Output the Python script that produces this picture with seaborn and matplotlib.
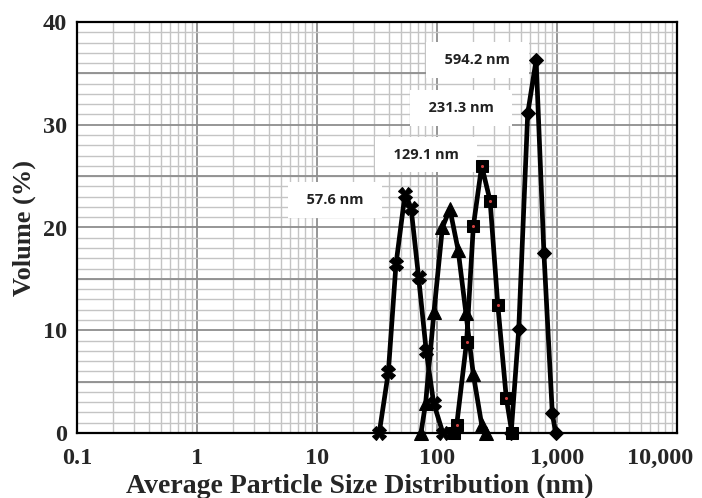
import numpy as np
import pandas as pd
import matplotlib
matplotlib.use("Agg")
import matplotlib.pyplot as plt
import seaborn as sns
from matplotlib.ticker import FixedLocator, FixedFormatter, NullFormatter, MultipleLocator
from matplotlib.transforms import ScaledTranslation

# ---- data ----
s1_x = [33.0, 39.3, 45.5, 54.2, 60.8, 70.2, 81.3, 93.8, 112.0]
s1_y = [0.0, 5.9, 16.4, 23.3, 21.9, 15.2, 8.0, 2.9, 0.0]

s2_x = [73.5, 80.4, 94.4, 110.9, 128.0, 150.0, 174.0, 200.7, 235.7, 257.0]
s2_y = [0.0, 2.9, 11.8, 20.0, 21.8, 17.8, 11.7, 5.7, 0.8, 0.0]

s3_x = [138.0, 146.0, 176.5, 200.7, 235.7, 277.0, 321.0, 378.0, 421.0]
s3_y = [0.0, 0.8, 8.9, 20.1, 26.0, 22.6, 12.5, 3.4, 0.0]

s4_x = [415.0, 480.0, 570.0, 670.0, 778.0, 914.0, 975.0]
s4_y = [0.0, 10.1, 31.1, 36.3, 17.5, 1.9, 0.0]

labels = ["57.6 nm", "129.1 nm", "231.3 nm", "594.2 nm"]
label_x = [14.2, 80.9, 159.0, 217.0]
label_y = [22.7, 27.1, 31.6, 36.3]

xtick_vals = [0.1, 1, 10, 100, 1000, 10000]
xtick_labels = ["0.1", "1", "10", "100", "1,000", "10,000"]
ytick_vals = [0, 10, 20, 30, 40]

sns.set_style("white")
plt.rcParams["font.family"] = ["Liberation Serif", "DejaVu Serif"]

fig = plt.figure(figsize=(7.02, 4.98), dpi=100)
ax = fig.add_axes([77 / 702, 1 - 433 / 498, 600 / 702, 411 / 498])

series = [
    (s1_x, s1_y, "X", 10),
    (s2_x, s2_y, "^", 10),
    (s3_x, s3_y, "s", 8),
    (s4_x, s4_y, "D", 7),
]
for xs, ys, mk, ms in series:
    df = pd.DataFrame({"x": xs, "y": ys})
    sns.lineplot(data=df, x="x", y="y", ax=ax, color="black", linewidth=3.4,
                 marker=mk, markersize=ms, markeredgecolor="black",
                 markerfacecolor="black", sort=False, zorder=5,
                 clip_on=False)

# red centre dots in the square markers
sns.scatterplot(x=s3_x[1:-1], y=s3_y[1:-1], ax=ax, color="#d04040", s=5,
                linewidth=0, zorder=6)

ax.set_xscale("log")
ax.set_xlim(0.1, 10000)
ax.set_ylim(0, 40)

ax.xaxis.set_major_locator(FixedLocator(xtick_vals))
ax.xaxis.set_major_formatter(FixedFormatter(xtick_labels))
ax.xaxis.set_minor_locator(matplotlib.ticker.LogLocator(base=10, subs=np.arange(2, 10)))
ax.xaxis.set_minor_formatter(NullFormatter())
ax.yaxis.set_major_locator(FixedLocator(ytick_vals))
ax.yaxis.set_minor_locator(MultipleLocator(1))

# grid: major every decade / 5 units, minor finer
ax.grid(which="major", axis="x", color="#8e8e8e", linewidth=1.3)
ax.grid(which="minor", axis="x", color="#c4c4c4", linewidth=1.0)
ax.grid(which="minor", axis="y", color="#c4c4c4", linewidth=1.0)
for v in np.arange(5, 40, 5):
    ax.axhline(v, color="#8e8e8e", linewidth=1.3, zorder=0.6)
ax.set_axisbelow(True)

ax.tick_params(axis="x", which="both", length=0, pad=11)
ax.tick_params(axis="y", which="both", length=0, pad=7)
for lab in ax.get_xticklabels() + ax.get_yticklabels():
    lab.set_fontweight("bold")
    lab.set_fontsize(17.5)

# last x label sits a little to the left, as in the reference
last = ax.get_xticklabels()[-1]
last.set_transform(last.get_transform() + ScaledTranslation(-0.17, 0, fig.dpi_scale_trans))

for sp in ax.spines.values():
    sp.set_visible(True)
    sp.set_color("black")
    sp.set_linewidth(1.6)

ax.set_xlabel("Average Particle Size Distribution (nm)", fontsize=20,
              fontweight="bold")
ax.xaxis.label.set_va("baseline")
ax.xaxis.set_label_coords(0.472, -0.146)
ax.set_ylabel("Volume (%)", fontsize=19, fontweight="bold")
ax.yaxis.set_label_coords(-0.068, 0.5)

for t, lx, ly in zip(labels, label_x, label_y):
    ax.text(lx, ly, "  " + t + "  ", ha="center", va="center", fontsize=10.5,
            fontweight="bold", family=["Open Sans", "DejaVu Sans"], color="#222222",
            bbox=dict(boxstyle="square,pad=0.75", facecolor="white",
                      edgecolor="none"), zorder=3)

fig.savefig("out.png", dpi=100)
